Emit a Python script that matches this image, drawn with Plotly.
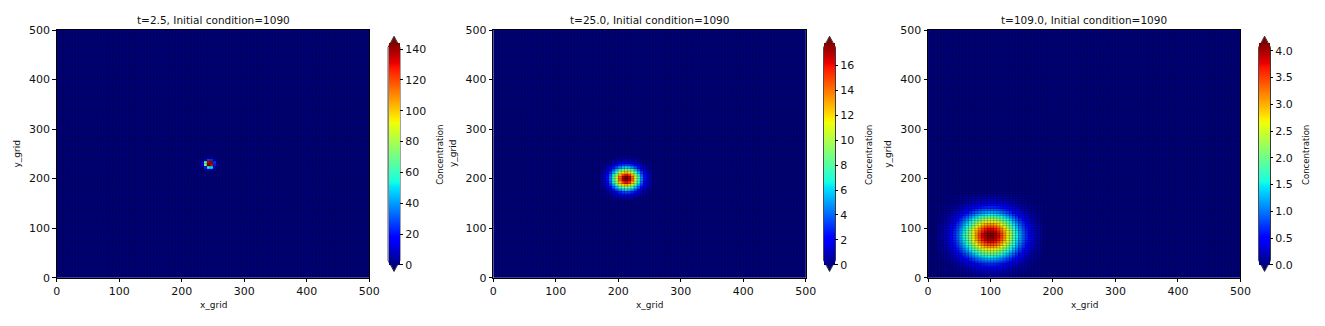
import numpy as np
import plotly.graph_objects as go

W, H = 1325, 326

# grid cell edges (x_grid, y_grid)
x_grid = list(range(0, 505, 5))
y_grid = list(range(0, 505, 5))
N = len(x_grid) - 1

titles = ["t=2.5, Initial condition=1090",
          "t=25.0, Initial condition=1090",
          "t=109.0, Initial condition=1090"]
axis_ticks = [0, 100, 200, 300, 400, 500]
cbar_ticks = [[0, 20, 40, 60, 80, 100, 120, 140],
              [0, 2, 4, 6, 8, 10, 12, 14, 16],
              [0.0, 0.5, 1.0, 1.5, 2.0, 2.5, 3.0, 3.5, 4.0]]
cbar_fmt = ["d", "d", ".1f"]
cbar_label = "Concentration"

# ---- panel 1 (t=2.5): non-zero block, rows 43..48 (bottom->top), cols 46..51
p1_row0, p1_col0 = 43, 46
p1_block = [
    [1, 4, 12, 10, 2, 0.3],
    [4, 22, 55, 50, 9, 1],
    [14, 75, 144, 132, 22, 3],
    [12, 65, 135, 140, 25, 3],
    [2, 10, 28, 25, 6, 1],
    [0.5, 1, 3, 3, 1, 0.3],
]

# ---- panel 2 (t=25.0): rows 31..48, cols 34..50
p2_row0, p2_col0 = 31, 34
p2_block = [
    [0.01,0.02,0.04,0.08,0.13,0.20,0.26,0.31,0.33,0.31,0.26,0.20,0.13,0.08,0.04,0.02,0.01],
    [0.02,0.05,0.11,0.20,0.33,0.48,0.63,0.75,0.79,0.75,0.63,0.48,0.33,0.20,0.11,0.05,0.02],
    [0.05,0.11,0.23,0.43,0.71,1.05,1.38,1.63,1.73,1.63,1.38,1.05,0.71,0.43,0.23,0.11,0.05],
    [0.10,0.22,0.46,0.84,1.38,2.04,2.69,3.18,3.36,3.18,2.69,2.04,1.38,0.84,0.46,0.22,0.10],
    [0.17,0.39,0.79,1.46,2.41,3.55,4.69,5.54,5.86,5.54,4.69,3.55,2.41,1.46,0.79,0.39,0.17],
    [0.26,0.60,1.24,2.28,3.76,5.54,7.32,8.65,9.14,8.65,7.32,5.54,3.76,2.28,1.24,0.60,0.26],
    [0.36,0.84,1.73,3.18,5.24,7.73,10.21,12.06,12.75,12.06,10.21,7.73,5.24,3.18,1.73,0.84,0.36],
    [0.46,1.05,2.16,3.97,6.55,9.66,12.76,15.07,15.93,15.07,12.76,9.66,6.55,3.97,2.16,1.05,0.46],
    [0.51,1.17,2.41,4.44,7.32,10.80,14.25,16.84,17.80,16.84,14.25,10.80,7.32,4.44,2.41,1.17,0.51],
    [0.51,1.17,2.41,4.44,7.32,10.80,14.25,16.84,17.80,16.84,14.25,10.80,7.32,4.44,2.41,1.17,0.51],
    [0.46,1.05,2.16,3.97,6.55,9.66,12.76,15.07,15.93,15.07,12.76,9.66,6.55,3.97,2.16,1.05,0.46],
    [0.36,0.84,1.73,3.18,5.24,7.73,10.21,12.06,12.75,12.06,10.21,7.73,5.24,3.18,1.73,0.84,0.36],
    [0.26,0.60,1.24,2.28,3.76,5.54,7.32,8.65,9.14,8.65,7.32,5.54,3.76,2.28,1.24,0.60,0.26],
    [0.17,0.39,0.79,1.46,2.41,3.55,4.69,5.54,5.86,5.54,4.69,3.55,2.41,1.46,0.79,0.39,0.17],
    [0.10,0.22,0.46,0.84,1.38,2.04,2.69,3.18,3.36,3.18,2.69,2.04,1.38,0.84,0.46,0.22,0.10],
    [0.05,0.11,0.23,0.43,0.71,1.05,1.38,1.63,1.73,1.63,1.38,1.05,0.71,0.43,0.23,0.11,0.05],
    [0.02,0.05,0.11,0.20,0.33,0.48,0.63,0.75,0.79,0.75,0.63,0.48,0.33,0.20,0.11,0.05,0.02],
    [0.01,0.02,0.04,0.08,0.13,0.20,0.26,0.31,0.33,0.31,0.26,0.20,0.13,0.08,0.04,0.02,0.01],
]

# ---- panel 3 (t=109.0): rows 0..33, cols 3..36
p3_row0, p3_col0 = 0, 3
p3_block = [
    [0.00,0.00,0.01,0.01,0.01,0.02,0.02,0.03,0.03,0.04,0.05,0.06,0.07,0.08,0.09,0.09,0.09,0.09,0.09,0.09,0.08,0.07,0.06,0.05,0.04,0.03,0.03,0.02,0.02,0.01,0.01,0.01,0.00,0.00],
    [0.00,0.01,0.01,0.01,0.02,0.02,0.03,0.04,0.05,0.07,0.08,0.10,0.11,0.12,0.14,0.14,0.15,0.15,0.14,0.14,0.12,0.11,0.10,0.08,0.07,0.05,0.04,0.03,0.02,0.02,0.01,0.01,0.01,0.00],
    [0.01,0.01,0.01,0.02,0.03,0.04,0.05,0.06,0.08,0.10,0.12,0.15,0.17,0.19,0.21,0.22,0.22,0.22,0.22,0.21,0.19,0.17,0.15,0.12,0.10,0.08,0.06,0.05,0.04,0.03,0.02,0.01,0.01,0.01],
    [0.01,0.01,0.02,0.03,0.04,0.05,0.07,0.09,0.12,0.15,0.18,0.22,0.25,0.28,0.30,0.32,0.33,0.33,0.32,0.30,0.28,0.25,0.22,0.18,0.15,0.12,0.09,0.07,0.05,0.04,0.03,0.02,0.01,0.01],
    [0.01,0.02,0.03,0.04,0.05,0.08,0.10,0.14,0.17,0.22,0.26,0.31,0.36,0.40,0.43,0.46,0.47,0.47,0.46,0.43,0.40,0.36,0.31,0.26,0.22,0.17,0.14,0.10,0.08,0.05,0.04,0.03,0.02,0.01],
    [0.02,0.02,0.04,0.05,0.08,0.11,0.14,0.19,0.24,0.30,0.37,0.43,0.50,0.56,0.61,0.64,0.66,0.66,0.64,0.61,0.56,0.50,0.43,0.37,0.30,0.24,0.19,0.14,0.11,0.08,0.05,0.04,0.02,0.02],
    [0.02,0.03,0.05,0.07,0.10,0.14,0.19,0.26,0.33,0.41,0.50,0.59,0.68,0.76,0.82,0.87,0.89,0.89,0.87,0.82,0.76,0.68,0.59,0.50,0.41,0.33,0.26,0.19,0.14,0.10,0.07,0.05,0.03,0.02],
    [0.03,0.04,0.06,0.09,0.14,0.19,0.26,0.34,0.43,0.54,0.66,0.78,0.89,1.00,1.09,1.15,1.18,1.18,1.15,1.09,1.00,0.89,0.78,0.66,0.54,0.43,0.34,0.26,0.19,0.14,0.09,0.06,0.04,0.03],
    [0.03,0.05,0.08,0.12,0.17,0.24,0.33,0.43,0.56,0.70,0.85,1.00,1.15,1.28,1.39,1.47,1.52,1.52,1.47,1.39,1.28,1.15,1.00,0.85,0.70,0.56,0.43,0.33,0.24,0.17,0.12,0.08,0.05,0.03],
    [0.04,0.07,0.10,0.15,0.22,0.30,0.41,0.54,0.70,0.87,1.06,1.25,1.43,1.60,1.74,1.84,1.89,1.89,1.84,1.74,1.60,1.43,1.25,1.06,0.87,0.70,0.54,0.41,0.30,0.22,0.15,0.10,0.07,0.04],
    [0.05,0.08,0.12,0.18,0.26,0.37,0.50,0.66,0.85,1.06,1.28,1.52,1.74,1.95,2.12,2.24,2.30,2.30,2.24,2.12,1.95,1.74,1.52,1.28,1.06,0.85,0.66,0.50,0.37,0.26,0.18,0.12,0.08,0.05],
    [0.06,0.10,0.15,0.22,0.31,0.43,0.59,0.78,1.00,1.25,1.52,1.79,2.06,2.30,2.50,2.64,2.72,2.72,2.64,2.50,2.30,2.06,1.79,1.52,1.25,1.00,0.78,0.59,0.43,0.31,0.22,0.15,0.10,0.06],
    [0.07,0.11,0.17,0.25,0.36,0.50,0.68,0.89,1.15,1.43,1.74,2.06,2.36,2.64,2.87,3.04,3.12,3.12,3.04,2.87,2.64,2.36,2.06,1.74,1.43,1.15,0.89,0.68,0.50,0.36,0.25,0.17,0.11,0.07],
    [0.08,0.12,0.19,0.28,0.40,0.56,0.76,1.00,1.28,1.60,1.95,2.30,2.64,2.95,3.21,3.39,3.49,3.49,3.39,3.21,2.95,2.64,2.30,1.95,1.60,1.28,1.00,0.76,0.56,0.40,0.28,0.19,0.12,0.08],
    [0.09,0.14,0.21,0.30,0.43,0.61,0.82,1.09,1.39,1.74,2.12,2.50,2.87,3.21,3.49,3.69,3.79,3.79,3.69,3.49,3.21,2.87,2.50,2.12,1.74,1.39,1.09,0.82,0.61,0.43,0.30,0.21,0.14,0.09],
    [0.09,0.14,0.22,0.32,0.46,0.64,0.87,1.15,1.47,1.84,2.24,2.64,3.04,3.39,3.69,3.90,4.01,4.01,3.90,3.69,3.39,3.04,2.64,2.24,1.84,1.47,1.15,0.87,0.64,0.46,0.32,0.22,0.14,0.09],
    [0.09,0.15,0.22,0.33,0.47,0.66,0.89,1.18,1.52,1.89,2.30,2.72,3.12,3.49,3.79,4.01,4.15,4.15,4.01,3.79,3.49,3.12,2.72,2.30,1.89,1.52,1.18,0.89,0.66,0.47,0.33,0.22,0.15,0.09],
    [0.09,0.15,0.22,0.33,0.47,0.66,0.89,1.18,1.52,1.89,2.30,2.72,3.12,3.49,3.79,4.01,4.15,4.15,4.01,3.79,3.49,3.12,2.72,2.30,1.89,1.52,1.18,0.89,0.66,0.47,0.33,0.22,0.15,0.09],
    [0.09,0.14,0.22,0.32,0.46,0.64,0.87,1.15,1.47,1.84,2.24,2.64,3.04,3.39,3.69,3.90,4.01,4.01,3.90,3.69,3.39,3.04,2.64,2.24,1.84,1.47,1.15,0.87,0.64,0.46,0.32,0.22,0.14,0.09],
    [0.09,0.14,0.21,0.30,0.43,0.61,0.82,1.09,1.39,1.74,2.12,2.50,2.87,3.21,3.49,3.69,3.79,3.79,3.69,3.49,3.21,2.87,2.50,2.12,1.74,1.39,1.09,0.82,0.61,0.43,0.30,0.21,0.14,0.09],
    [0.08,0.12,0.19,0.28,0.40,0.56,0.76,1.00,1.28,1.60,1.95,2.30,2.64,2.95,3.21,3.39,3.49,3.49,3.39,3.21,2.95,2.64,2.30,1.95,1.60,1.28,1.00,0.76,0.56,0.40,0.28,0.19,0.12,0.08],
    [0.07,0.11,0.17,0.25,0.36,0.50,0.68,0.89,1.15,1.43,1.74,2.06,2.36,2.64,2.87,3.04,3.12,3.12,3.04,2.87,2.64,2.36,2.06,1.74,1.43,1.15,0.89,0.68,0.50,0.36,0.25,0.17,0.11,0.07],
    [0.06,0.10,0.15,0.22,0.31,0.43,0.59,0.78,1.00,1.25,1.52,1.79,2.06,2.30,2.50,2.64,2.72,2.72,2.64,2.50,2.30,2.06,1.79,1.52,1.25,1.00,0.78,0.59,0.43,0.31,0.22,0.15,0.10,0.06],
    [0.05,0.08,0.12,0.18,0.26,0.37,0.50,0.66,0.85,1.06,1.28,1.52,1.74,1.95,2.12,2.24,2.30,2.30,2.24,2.12,1.95,1.74,1.52,1.28,1.06,0.85,0.66,0.50,0.37,0.26,0.18,0.12,0.08,0.05],
    [0.04,0.07,0.10,0.15,0.22,0.30,0.41,0.54,0.70,0.87,1.06,1.25,1.43,1.60,1.74,1.84,1.89,1.89,1.84,1.74,1.60,1.43,1.25,1.06,0.87,0.70,0.54,0.41,0.30,0.22,0.15,0.10,0.07,0.04],
    [0.03,0.05,0.08,0.12,0.17,0.24,0.33,0.43,0.56,0.70,0.85,1.00,1.15,1.28,1.39,1.47,1.52,1.52,1.47,1.39,1.28,1.15,1.00,0.85,0.70,0.56,0.43,0.33,0.24,0.17,0.12,0.08,0.05,0.03],
    [0.03,0.04,0.06,0.09,0.14,0.19,0.26,0.34,0.43,0.54,0.66,0.78,0.89,1.00,1.09,1.15,1.18,1.18,1.15,1.09,1.00,0.89,0.78,0.66,0.54,0.43,0.34,0.26,0.19,0.14,0.09,0.06,0.04,0.03],
    [0.02,0.03,0.05,0.07,0.10,0.14,0.19,0.26,0.33,0.41,0.50,0.59,0.68,0.76,0.82,0.87,0.89,0.89,0.87,0.82,0.76,0.68,0.59,0.50,0.41,0.33,0.26,0.19,0.14,0.10,0.07,0.05,0.03,0.02],
    [0.02,0.02,0.04,0.05,0.08,0.11,0.14,0.19,0.24,0.30,0.37,0.43,0.50,0.56,0.61,0.64,0.66,0.66,0.64,0.61,0.56,0.50,0.43,0.37,0.30,0.24,0.19,0.14,0.11,0.08,0.05,0.04,0.02,0.02],
    [0.01,0.02,0.03,0.04,0.05,0.08,0.10,0.14,0.17,0.22,0.26,0.31,0.36,0.40,0.43,0.46,0.47,0.47,0.46,0.43,0.40,0.36,0.31,0.26,0.22,0.17,0.14,0.10,0.08,0.05,0.04,0.03,0.02,0.01],
    [0.01,0.01,0.02,0.03,0.04,0.05,0.07,0.09,0.12,0.15,0.18,0.22,0.25,0.28,0.30,0.32,0.33,0.33,0.32,0.30,0.28,0.25,0.22,0.18,0.15,0.12,0.09,0.07,0.05,0.04,0.03,0.02,0.01,0.01],
    [0.01,0.01,0.01,0.02,0.03,0.04,0.05,0.06,0.08,0.10,0.12,0.15,0.17,0.19,0.21,0.22,0.22,0.22,0.22,0.21,0.19,0.17,0.15,0.12,0.10,0.08,0.06,0.05,0.04,0.03,0.02,0.01,0.01,0.01],
    [0.00,0.01,0.01,0.01,0.02,0.02,0.03,0.04,0.05,0.07,0.08,0.10,0.11,0.12,0.14,0.14,0.15,0.15,0.14,0.14,0.12,0.11,0.10,0.08,0.07,0.05,0.04,0.03,0.02,0.02,0.01,0.01,0.01,0.00],
    [0.00,0.00,0.01,0.01,0.01,0.02,0.02,0.03,0.03,0.04,0.05,0.06,0.07,0.08,0.09,0.09,0.09,0.09,0.09,0.09,0.08,0.07,0.06,0.05,0.04,0.03,0.03,0.02,0.02,0.01,0.01,0.01,0.00,0.00],
]

blocks = [(p1_block, p1_row0, p1_col0),
          (p2_block, p2_row0, p2_col0),
          (p3_block, p3_row0, p3_col0)]


def full_field(block, r0, c0):
    z = np.zeros((N, N))
    b = np.array(block, dtype=float)
    z[r0:r0 + b.shape[0], c0:c0 + b.shape[1]] = b
    return z


# matplotlib 'jet' colormap as a plotly colorscale (exact breakpoints)
def jet_colorscale():
    pos = sorted({0, 0.11, 0.125, 0.34, 0.35, 0.375, 0.64, 0.65, 0.66, 0.89, 0.91, 1})
    r = np.interp(pos, [0, 0.35, 0.66, 0.89, 1], [0, 0, 1, 1, 0.5])
    g = np.interp(pos, [0, 0.125, 0.375, 0.64, 0.91, 1], [0, 0, 1, 1, 0, 0])
    b = np.interp(pos, [0, 0.11, 0.34, 0.65, 1], [0.5, 1, 1, 0, 0])
    return [[p, f"rgb({round(R*255)},{round(G*255)},{round(B*255)})"]
            for p, R, G, B in zip(pos, r, g, b)]


JET = jet_colorscale()
FONT = "DejaVu Sans"

# layout geometry (pixels)
ax_x = [(53.3, 369.5), (494.8, 811.0), (934.6, 1250.6)]
ax_top, ax_bot = 25.0, 283.0
cb_x = [389.0, 829.5, 1269.5]
cb_label_x = [441.0, 875.0, 1317.0]
cb_w = 11.0
cb_top, cb_bot = 43.0, 265.0
tri = 11.0

px = lambda v: v / W
py = lambda v: 1 - v / H

# cell-edge mesh lines (pcolormesh edges), drawn in data coordinates
mesh_path = " ".join([f"M {e},0 L {e},500" for e in x_grid[1:-1]] +
                     [f"M 0,{e} L 500,{e}" for e in y_grid[1:-1]])

fig = go.Figure()
shapes = []
annotations = []

for k in range(3):
    block, r0, c0 = blocks[k]
    z = full_field(block, r0, c0)
    zmax = float(np.max(z))
    xa = "x" if k == 0 else f"x{k+1}"
    ya = "y" if k == 0 else f"y{k+1}"
    fig.add_trace(go.Heatmap(
        z=z, x=x_grid, y=y_grid, xaxis=xa, yaxis=ya,
        colorscale=JET, zmin=0, zmax=zmax,
        hoverinfo="skip",
        colorbar=dict(
            x=px(cb_x[k]), xanchor="left", xpad=0,
            y=py((cb_top + cb_bot) / 2), yanchor="middle", ypad=0,
            len=cb_bot - cb_top, lenmode="pixels",
            thickness=cb_w, thicknessmode="pixels",
            outlinewidth=0,
            ticks="outside", ticklen=3.5, tickwidth=1, tickcolor="black",
            tickmode="array", tickvals=cbar_ticks[k], tickformat=cbar_fmt[k],
            tickprefix="\u2009",
            tickfont=dict(family=FONT, size=11, color="#111"),
        ),
    ))
    dom = [px(ax_x[k][0]), px(ax_x[k][1])]
    common = dict(range=[0, 500], tickmode="array", tickvals=axis_ticks,
                  ticks="outside", ticklen=3.5, tickwidth=1, tickcolor="black",
                  showline=True, mirror=True, linecolor="black", linewidth=1,
                  showgrid=False, zeroline=False,
                  tickfont=dict(family=FONT, size=11, color="#111"))
    xkey = "xaxis" if k == 0 else f"xaxis{k+1}"
    ykey = "yaxis" if k == 0 else f"yaxis{k+1}"
    fig.update_layout({
        xkey: dict(domain=dom, anchor=ya, **common),
        ykey: dict(domain=[py(ax_bot), py(ax_top)], anchor=xa, **common),
    })

    shapes.append(dict(type="path", xref=xa, yref=ya, path=mesh_path,
                       line=dict(color="rgba(0,0,0,0.38)", width=0.6), layer="above"))

    # titles and axis labels
    cx = (ax_x[k][0] + ax_x[k][1]) / 2
    annotations.append(dict(text=titles[k], x=px(cx), y=py(14.5), xref="paper", yref="paper",
                            showarrow=False, xanchor="center", yanchor="middle",
                            font=dict(family=FONT, size=10.5, color="#111")))
    annotations.append(dict(text="x_grid", x=px(cx), y=py(311.5), xref="paper", yref="paper",
                            showarrow=False, xanchor="center", yanchor="middle",
                            font=dict(family=FONT, size=9, color="#111")))
    annotations.append(dict(text="y_grid", x=px(ax_x[k][0] - 40.5), y=py((ax_top + ax_bot) / 2),
                            xref="paper", yref="paper", textangle=-90,
                            showarrow=False, xanchor="center", yanchor="middle",
                            font=dict(family=FONT, size=9, color="#111")))
    annotations.append(dict(text=cbar_label, x=px(cb_label_x[k]), y=py(155),
                            xref="paper", yref="paper", textangle=-90,
                            showarrow=False, xanchor="center", yanchor="middle",
                            font=dict(family=FONT, size=8.5, color="#111")))

    # colorbar extension triangles + outline
    x0, x1 = cb_x[k], cb_x[k] + cb_w
    xm = (x0 + x1) / 2
    shapes.append(dict(type="path", xref="paper", yref="paper",
                       path=f"M {px(x0)},{py(cb_top)} L {px(x1)},{py(cb_top)} L {px(xm)},{py(cb_top - tri)} Z",
                       fillcolor="rgb(128,0,0)", line=dict(width=0)))
    shapes.append(dict(type="path", xref="paper", yref="paper",
                       path=f"M {px(x0)},{py(cb_bot)} L {px(x1)},{py(cb_bot)} L {px(xm)},{py(cb_bot + tri)} Z",
                       fillcolor="rgb(0,0,128)", line=dict(width=0)))
    a, b2 = x0 - 0.5, x1 + 0.5
    shapes.append(dict(type="path", xref="paper", yref="paper",
                       path=(f"M {px(a)},{py(cb_top)} L {px(a)},{py(cb_bot)} L {px(xm)},{py(cb_bot + tri + 0.5)} "
                             f"L {px(b2)},{py(cb_bot)} L {px(b2)},{py(cb_top)} L {px(xm)},{py(cb_top - tri - 0.5)} Z"),
                       fillcolor="rgba(0,0,0,0)", line=dict(color="black", width=0.8)))

fig.update_layout(
    width=W, height=H,
    margin=dict(l=0, r=0, t=0, b=0),
    paper_bgcolor="white",
    plot_bgcolor="white",
    showlegend=False,
    shapes=shapes,
    annotations=annotations,
    font=dict(family=FONT),
)

fig.write_html("out.html")
